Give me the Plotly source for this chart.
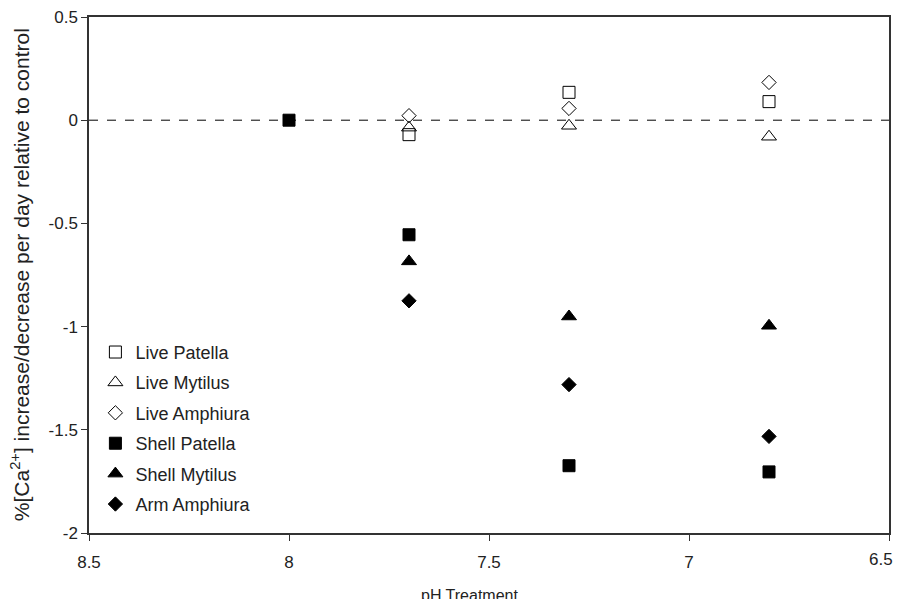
import plotly.graph_objects as go

ph_live = [7.7, 7.3, 6.8]
ph_shell = [8.0, 7.7, 7.3, 6.8]

live_patella = [-0.070, 0.135, 0.090]
live_mytilus = [-0.036, -0.027, -0.080]
live_amphiura = [0.022, 0.057, 0.183]

shell_patella = [0.0, -0.555, -1.674, -1.704]
shell_mytilus = [-0.684, -0.951, -0.996]
arm_amphiura = [-0.875, -1.281, -1.532]

x_ticks = [8.5, 8.0, 7.5, 7.0, 6.5]
x_tick_labels = ["8.5", "8", "7.5", "7", "6.5"]
y_ticks = [0.5, 0.0, -0.5, -1.0, -1.5, -2.0]
y_tick_labels = ["0.5", "0", "-0.5", "-1", "-1.5", "-2"]

FONT = "Liberation Sans, Arial, sans-serif"

fig = go.Figure()

series = [
    ("Live Patella", ph_live, live_patella, "square-open", 12),
    ("Live Mytilus", ph_live, live_mytilus, "triangle-up-open", 13),
    ("Live Amphiura", ph_live, live_amphiura, "diamond-open", 11),
    ("Shell Patella", ph_shell, shell_patella, "square", 12),
    ("Shell Mytilus", ph_live, shell_mytilus, "triangle-up", 13),
    ("Arm Amphiura", ph_live, arm_amphiura, "diamond", 11),
]

for i, (name, xs, ys, sym, sz) in enumerate(series):
    fig.add_trace(go.Scatter(
        x=xs, y=ys, mode="markers", name=name, legendgroup=f"g{i}",
        marker=dict(symbol=sym, size=sz, color="black",
                    line=dict(color="black", width=1)),
    ))

fig.add_hline(y=0, line=dict(color="black", width=1, dash="dash"))

# y-axis title
fig.add_annotation(
    text="%[Ca<sup>2+</sup>] increase/decrease per day relative to control",
    xref="paper", yref="paper", x=-0.086, y=0.5,
    xanchor="center", yanchor="middle", textangle=-90, showarrow=False,
    font=dict(family=FONT, size=21, color="#222"),
)

# x-axis title
fig.add_annotation(
    text="pH Treatment",
    xref="paper", yref="paper", x=0.475, y=-0.122,
    xanchor="center", yanchor="middle", showarrow=False,
    font=dict(family=FONT, size=16, color="#222"),
)

# last x tick label kept inside the visible page edge
fig.add_annotation(
    text=x_tick_labels[-1],
    xref="x", yref="paper", x=x_ticks[-1], y=-0.03,
    xanchor="right", yanchor="top", xshift=6, showarrow=False,
    font=dict(family=FONT, size=17, color="#222"),
)

shown_x_labels = x_tick_labels[:-1] + [""]

fig.update_layout(
    width=896, height=591,
    margin=dict(l=81, r=15, t=9, b=66, autoexpand=False),
    paper_bgcolor="white", plot_bgcolor="white",
    font=dict(family=FONT, size=17, color="#222"),
    showlegend=True,
    legend=dict(
        x=0.008, y=0.386, xanchor="left", yanchor="top",
        xref="paper", yref="paper",
        font=dict(family=FONT, size=18, color="#222"),
        bgcolor="rgba(0,0,0,0)",
        traceorder="grouped", tracegroupgap=4,
        itemwidth=30,
    ),
    xaxis=dict(
        range=[8.5, 6.5], tickvals=x_ticks, ticktext=shown_x_labels,
        ticks="outside", ticklen=6, tickcolor="#333",
        showline=True, linecolor="#333", linewidth=1.5, mirror=True,
        showgrid=False, zeroline=False, automargin=False,
        ticklabeloverflow="allow", ticklabelstandoff=7,
        tickfont=dict(size=17),
    ),
    yaxis=dict(
        range=[-2, 0.5], tickvals=y_ticks, ticktext=y_tick_labels,
        ticks="outside", ticklen=6, tickcolor="#333",
        showline=True, linecolor="#333", linewidth=1.5, mirror=True,
        showgrid=False, zeroline=False, automargin=False,
        ticklabeloverflow="allow",
        tickfont=dict(size=17),
    ),
)

fig.write_html("out.html")
